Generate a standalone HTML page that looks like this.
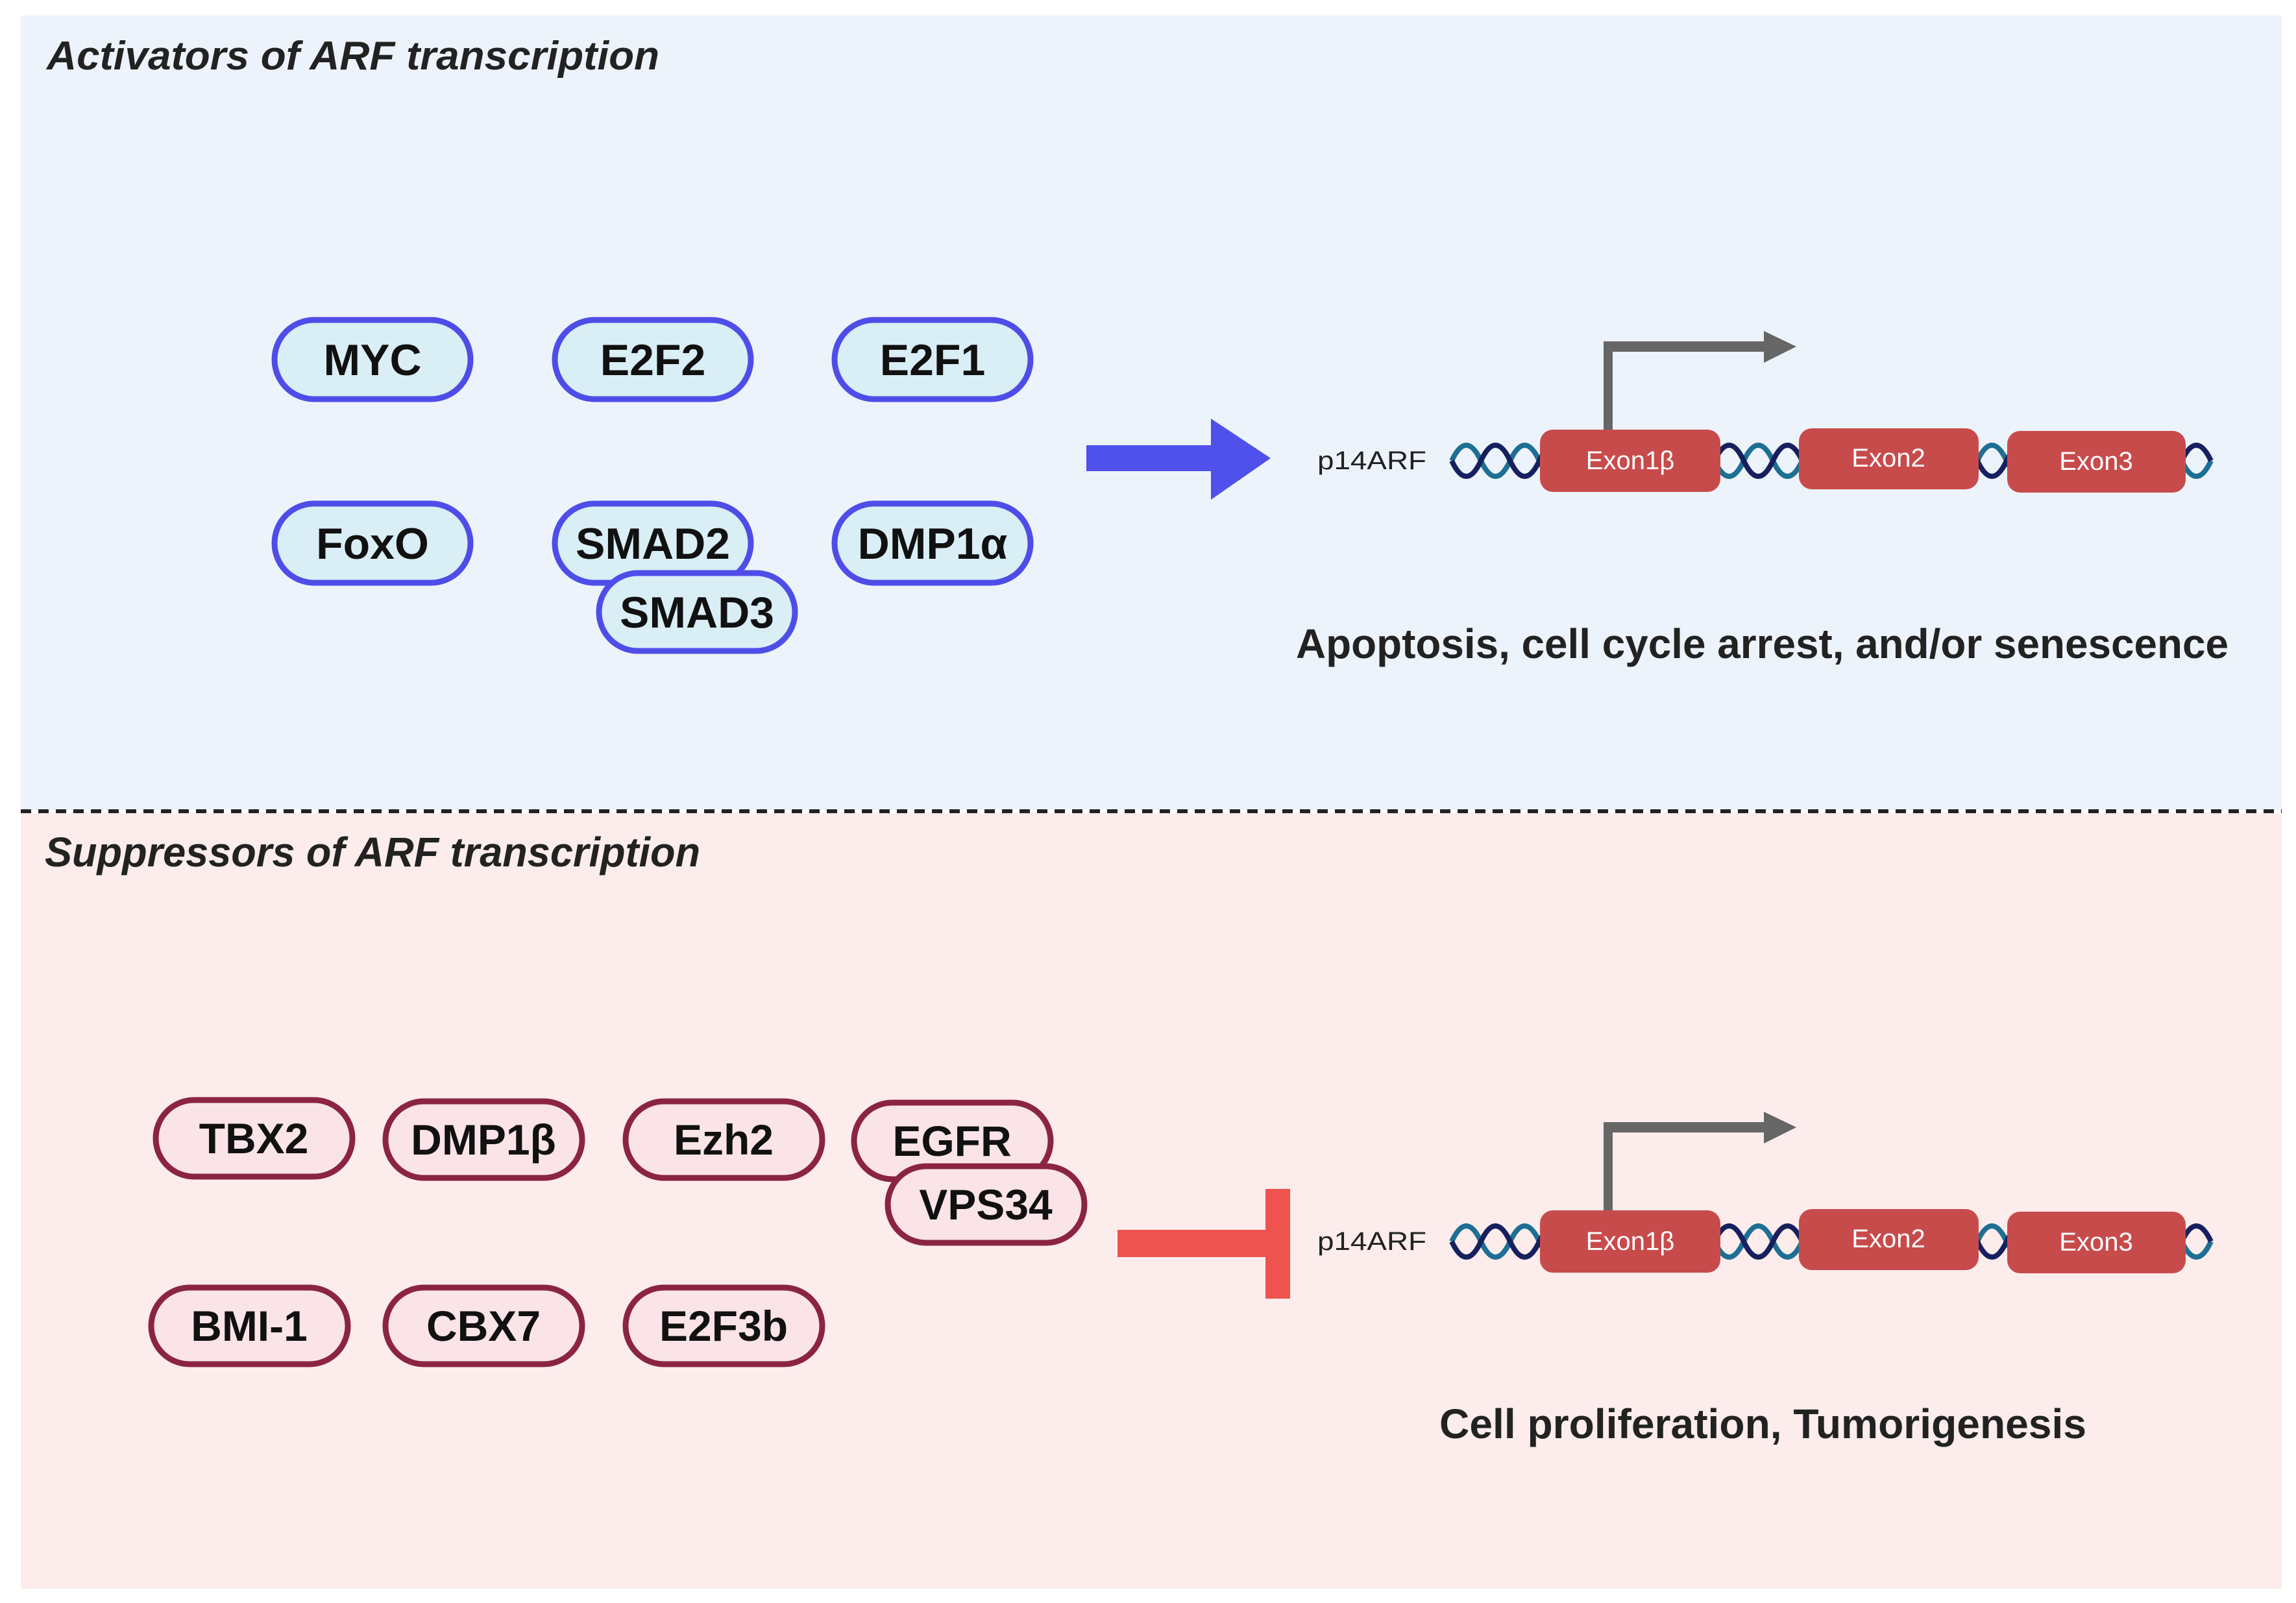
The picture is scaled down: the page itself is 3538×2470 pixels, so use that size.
<!DOCTYPE html>
<html><head><meta charset="utf-8"><style>
html,body{margin:0;padding:0;background:#fff;}
svg{display:block;}
text{font-family:"Liberation Sans",sans-serif;}
</style></head><body>
<svg width="3538" height="2470" viewBox="0 0 3538 2470" xmlns="http://www.w3.org/2000/svg">
<rect x="0" y="0" width="3538" height="2470" fill="#ffffff"/>
<rect x="32" y="24" width="3484" height="1224" fill="#edf3fb"/>
<rect x="32" y="1253" width="3484" height="1195" fill="#fcecec"/>
<line x1="32" y1="1250" x2="3516" y2="1250" stroke="#222" stroke-width="6" stroke-dasharray="16 11"/>

<text x="72" y="107" font-size="62" font-weight="bold" font-style="italic" fill="#222" textLength="944" lengthAdjust="spacingAndGlyphs">Activators of ARF transcription</text>
<text x="69" y="1335" font-size="64" font-weight="bold" font-style="italic" fill="#222" textLength="1010" lengthAdjust="spacingAndGlyphs">Suppressors of ARF transcription</text>

<!-- activator pills -->
<g stroke="#4f4de8" stroke-width="9" fill="#daeef6">
<rect x="423" y="493" width="302" height="122" rx="61"/>
<rect x="855" y="493" width="302" height="122" rx="61"/>
<rect x="1286" y="493" width="302" height="122" rx="61"/>
<rect x="423" y="776" width="302" height="122" rx="61"/>
<rect x="855" y="776" width="302" height="122" rx="61"/>
<rect x="1286" y="776" width="302" height="122" rx="61"/>
<rect x="923" y="883" width="302" height="120" rx="60"/>
</g>
<g font-size="68" font-weight="bold" fill="#111" text-anchor="middle">
<text x="574" y="578">MYC</text>
<text x="1006" y="578">E2F2</text>
<text x="1437" y="578">E2F1</text>
<text x="574" y="861">FoxO</text>
<text x="1006" y="861">SMAD2</text>
<text x="1437" y="861">DMP1α</text>
<text x="1074" y="967">SMAD3</text>
</g>

<!-- suppressor pills -->
<g stroke="#8a2442" stroke-width="9" fill="#fbe4e8">
<rect x="240" y="1695" width="303" height="118" rx="59"/>
<rect x="594" y="1697" width="303" height="118" rx="59"/>
<rect x="964" y="1697" width="303" height="118" rx="59"/>
<rect x="1316" y="1699" width="303" height="118" rx="59"/>
<rect x="1368" y="1797" width="303" height="118" rx="59"/>
<rect x="233" y="1984" width="303" height="118" rx="59"/>
<rect x="594" y="1984" width="303" height="118" rx="59"/>
<rect x="964" y="1984" width="303" height="118" rx="59"/>
</g>
<g font-size="66" font-weight="bold" fill="#111" text-anchor="middle">
<text x="391" y="1777">TBX2</text>
<text x="745" y="1779">DMP1β</text>
<text x="1115" y="1779">Ezh2</text>
<text x="1467" y="1781">EGFR</text>
<text x="1519" y="1879">VPS34</text>
<text x="384" y="2066">BMI-1</text>
<text x="745" y="2066">CBX7</text>
<text x="1115" y="2066">E2F3b</text>
</g>

<!-- activation arrow -->
<polygon points="1674,686 1866,686 1866,645 1958,706 1866,770 1866,726 1674,726" fill="#5050ec"/>
<!-- inhibition -->
<rect x="1722" y="1895" width="238" height="42" fill="#ef5350"/>
<rect x="1950" y="1832" width="38" height="169" fill="#ef5350"/>

<defs>
<g id="helix">
<path d="M2237 710 Q2259.5 662 2282 710 T2327 710 T2372 710 T2417 710 T2462 710 T2507 710 T2552 710 T2597 710 T2642 710 T2687 710 T2732 710 T2777 710 T2822 710 T2867 710 T2912 710 T2957 710 T3002 710 T3047 710 T3092 710 T3137 710 T3182 710 T3227 710 T3272 710 T3317 710 T3362 710 T3407 710" fill="none" stroke="#1d6f93" stroke-width="8"/>
<path d="M2237 710 Q2259.5 758 2282 710 T2327 710 T2372 710 T2417 710 T2462 710 T2507 710 T2552 710 T2597 710 T2642 710 T2687 710 T2732 710 T2777 710 T2822 710 T2867 710 T2912 710 T2957 710 T3002 710 T3047 710 T3092 710 T3137 710 T3182 710 T3227 710 T3272 710 T3317 710 T3362 710 T3407 710" fill="none" stroke="#17205f" stroke-width="8"/>
<rect x="2471" y="526" width="14" height="138" fill="#666"/>
<rect x="2471" y="526" width="250" height="16" fill="#666"/>
<polygon points="2718,510 2768,534 2718,559" fill="#666"/>
<rect x="2373" y="662" width="278" height="96" rx="20" fill="#c84b4c"/>
<rect x="2772" y="660" width="277" height="94" rx="20" fill="#c84b4c"/>
<rect x="3093" y="664" width="275" height="95" rx="20" fill="#c84b4c"/>
</g>
</defs>
<use href="#helix"/>
<use href="#helix" transform="translate(0,1203)"/>

<g font-size="40" fill="#fff" text-anchor="middle">
<text x="2512" y="723">Exon1β</text>
<text x="2910" y="719">Exon2</text>
<text x="3230" y="724">Exon3</text>
<text x="2512" y="1926">Exon1β</text>
<text x="2910" y="1922">Exon2</text>
<text x="3230" y="1927">Exon3</text>
</g>
<g font-size="40" fill="#222">
<text x="2030" y="723" textLength="168" lengthAdjust="spacingAndGlyphs">p14ARF</text>
<text x="2030" y="1926" textLength="168" lengthAdjust="spacingAndGlyphs">p14ARF</text>
</g>
<text x="1997" y="1014" font-size="64" font-weight="bold" fill="#222" textLength="1437" lengthAdjust="spacingAndGlyphs">Apoptosis, cell cycle arrest, and/or senescence</text>
<text x="2218" y="2216" font-size="64" font-weight="bold" fill="#222" textLength="997" lengthAdjust="spacingAndGlyphs">Cell proliferation, Tumorigenesis</text>
</svg>
</body></html>
